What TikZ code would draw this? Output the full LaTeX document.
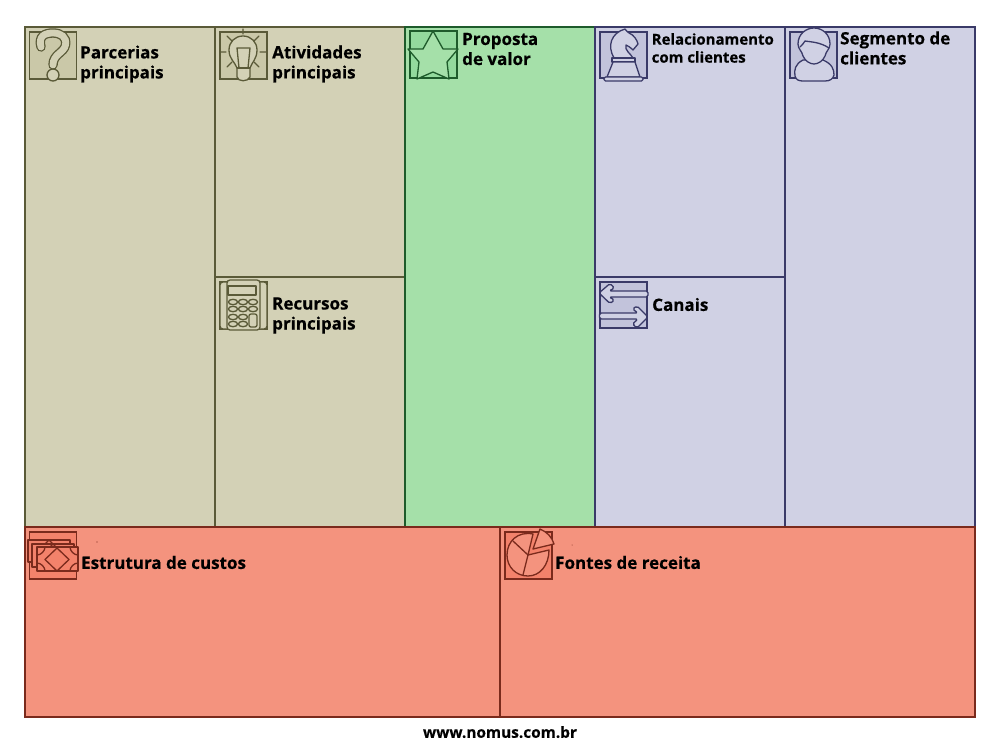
\documentclass[tikz,border=0pt]{standalone}
\usepackage{fontspec}
\setmainfont[BoldFeatures={FakeBold=0.4}]{Open Sans}
\definecolor{bfill}{HTML}{D3D1B6}\definecolor{bline}{HTML}{5A5A38}\definecolor{bbox}{HTML}{CAC8A8}
\definecolor{gfill}{HTML}{A5E0A9}\definecolor{gline}{HTML}{1E5B2B}\definecolor{gbox}{HTML}{93DA9D}
\definecolor{lfill}{HTML}{D0D1E4}\definecolor{lline}{HTML}{3A3A68}\definecolor{lbox}{HTML}{C2C3DB}
\definecolor{rfill}{HTML}{F4937E}\definecolor{rline}{HTML}{7A2A1C}\definecolor{rbox}{HTML}{F3826B}
\tikzset{
  x=1pt,y=-1pt,
  cell/.style={line width=1.2pt,line join=miter},
  ico/.style={line width=1.3pt,line join=round,line cap=round},
  lab/.style={font=\fontsize{17}{20}\selectfont\bfseries,align=left,anchor=west,inner sep=0pt,text=black},
  labs/.style={font=\fontsize{15}{18}\selectfont\bfseries,align=left,anchor=west,inner sep=0pt,text=black},
}
\begin{document}
\begin{tikzpicture}
\useasboundingbox (0,0) rectangle (1000,744);
\fill[white] (0,0) rectangle (1000,744);
% cells
\foreach \a/\b/\c/\d in {25/27/215/527,215/27/405/277,215/277/405/527}
  \filldraw[cell,fill=bfill,draw=bline] (\a,\b) rectangle (\c,\d);
\filldraw[cell,fill=gfill,draw=gline] (405,27) rectangle (595,527);
\foreach \a/\b/\c/\d in {595/27/785/277,595/277/785/527,785/27/975/527}
  \filldraw[cell,fill=lfill,draw=lline] (\a,\b) rectangle (\c,\d);
\foreach \a/\c in {25/500,500/975}
  \filldraw[cell,fill=rfill,draw=rline] (\a,527) rectangle (\c,717);
% icon squares
\foreach \a/\b in {29.5/32,220/32,220/282}
  \filldraw[cell,fill=bbox,draw=bline] (\a,\b) rectangle +(47,47);
\filldraw[cell,fill=gbox,draw=gline] (410,31) rectangle +(47,47);
\foreach \a/\b in {600/32,790/32,600/282}
  \filldraw[cell,fill=lbox,draw=lline] (\a,\b) rectangle +(47,46);
\foreach \a/\b in {29.5/532,505/532}
  \filldraw[cell,fill=rbox,draw=rline] (\a,\b) rectangle +(47,47);
% question mark
\def\qpath{(41,47) .. controls (38,36) and (45,33) .. (53,33) .. controls (61,33) and (67,37) .. (65.5,45) .. controls (64,53) and (53,54) .. (53,65)}
\draw[bline,line width=9.4pt,line cap=round] \qpath;
\draw[bfill,line width=6.8pt,line cap=round] \qpath;
\filldraw[ico,fill=bfill,draw=bline] (53,75) circle (6);
% bulb
\begin{scope}[ico,draw=bline]
\draw[fill=bfill] (237,77) .. controls (238,82) and (248,82) .. (250,77) -- (250,68) .. controls (252,62) and (257,59) .. (257,50) .. controls (257,42) and (251,36) .. (243,36) .. controls (235,36) and (229,42) .. (229,50) .. controls (229,59) and (235,62) .. (237,68) -- cycle;
\draw (237,48) -- (250,48) -- (248,68) -- (239,68) -- cycle;
\draw (237,68) -- (250,68);
\draw (243,29) -- (243,34) (220,52) -- (226,52) (260,52) -- (267,52)
  (227,36) -- (232,41) (259,36) -- (254,41) (227,67) -- (232,62) (259,67) -- (254,62);
\end{scope}
% star
\filldraw[ico,fill=gfill,draw=gline] (433,31) -- (443,49) -- (458,49) -- (447,62) -- (449,79) -- (433,72) -- (417,79) -- (419,62) -- (408,49) -- (423,49) -- cycle;
% calculator
\begin{scope}[ico,draw=bline]
\draw[fill=bfill,rounded corners=3pt] (220,282) rectangle (267,329);
\draw[fill=bfill,rounded corners=3pt] (227,280) rectangle (260,330);
\draw (228,286) rectangle (256,295);
\foreach \p in {233,243,253}\foreach \q in {302,309}
  \draw (\p,\q) ellipse (4.6 and 2.7);
\foreach \p in {233,243}\foreach \q in {317,324}
  \draw (\p,\q) ellipse (4.6 and 2.7);
\draw[rounded corners=2pt] (249,314) rectangle (257,327);
\end{scope}
% knight
\begin{scope}[ico,draw=lline]
\draw[fill=lfill] (614,58) .. controls (607,46) and (611,33) .. (625,29) .. controls (626,31) and (628,32) .. (629,33) .. controls (634,35) and (637,40) .. (638,44) -- (633,50) .. controls (630,47) and (628,46) .. (626,45) .. controls (624,50) and (631,54) .. (633,58) -- cycle;
\draw[fill=lfill] (612,58) rectangle (635,62);
\draw[fill=lfill] (613,62) -- (607,77) -- (640,77) -- (635,62) -- cycle;
\draw[fill=lfill,rounded corners=1.5pt] (604,77) rectangle (643,81);
\end{scope}
% person
\begin{scope}[ico,draw=lline]
\draw[fill=lfill] (803,60) .. controls (795,64) and (794,70) .. (795,76) .. controls (796,80) and (799,81) .. (803,81) -- (825,81) .. controls (830,81) and (833,79) .. (834,75) .. controls (834,69) and (832,64) .. (823,60) -- cycle;
\draw[fill=lfill] (814,28) .. controls (806,28) and (798,34) .. (798,44) .. controls (798,49) and (802,51) .. (803,56) .. controls (805,61) and (810,64) .. (814,64) .. controls (818,64) and (823,61) .. (825,56) .. controls (826,51) and (830,49) .. (830,44) .. controls (830,34) and (822,28) .. (814,28) -- cycle;
\draw (800,47) .. controls (802,45) and (804,43) .. (805,41) .. controls (811,42) and (820,42) .. (829,48);
\end{scope}
% channel arrows
\begin{scope}[ico,draw=lline,fill=lfill]
\filldraw[rounded corners=1.8pt] (599,293) -- (610,283.5) -- (614.5,288) -- (609,291) -- (648,291) -- (648,297) -- (609,297) -- (614.5,300) -- (610,303.5) -- cycle;
\filldraw[rounded corners=1.8pt] (648,317) -- (637,306) -- (632.5,309) -- (638,313) -- (599.5,313) -- (599.5,319) -- (638,319) -- (632.5,324) -- (637,328) -- cycle;
\end{scope}
% money
\begin{scope}[ico,draw=rline,fill=rbox]
\filldraw (28,540) rectangle (70,562);
\draw (49,540) -- (60,551) -- (49,562) -- (38,551) -- cycle;
\filldraw (32,544) rectangle (74,567);
\draw (53,544) -- (64,555) -- (53,566) -- (42,555) -- cycle;
\filldraw (37,547) rectangle (78,571);
\draw (57,548) -- (69,559.5) -- (57,571) -- (45,559.5) -- cycle;
\draw (37,555) .. controls (41,555) and (45,551) .. (45,547);
\draw (37,563) .. controls (41,563) and (45,567) .. (45,571);
\draw (78,555) .. controls (74,555) and (70,551) .. (70,547);
\draw (78,563) .. controls (74,563) and (70,567) .. (70,571);
\end{scope}
% pie
\begin{scope}[ico,draw=rline]
\draw[fill=rfill] (533,534) .. controls (518,531) and (507,541) .. (507,555) .. controls (507,567) and (516,576) .. (528,576) .. controls (540,576) and (549,565) .. (549,550) -- (528,555) -- cycle;
\draw (528,555) -- (513,541) (528,555) -- (523,575);
\draw[fill=rfill] (533,549) -- (540,529) .. controls (547,532) and (552,537) .. (554,544) -- cycle;
\end{scope}
\fill[rline] (97,542) circle (.6) (572,545) circle (.5);
% labels
\node[lab] (parcerias) at (80,64) {Parcerias\\principais};
\node[lab] (atividades) at (272,64) {Atividades\\principais};
\node[lab] (recursos) at (272,315.5) {Recursos\\principais};
\node[lab] (proposta) at (462,49) {Proposta\\de valor};
\node[labs] (relacion) at (651.5,48) {Relacionamento\\com clientes};
\node[lab] (canais) at (652,304.5) {Canais};
\node[lab] (segmento) at (840,48) {Segmento de\\clientes};
\node[lab] (custos) at (81,562.5) {Estrutura de custos};
\node[lab] (fontes) at (555,562.5) {Fontes de receita};
\node[font=\fontsize{15.4}{17}\selectfont\bfseries,inner sep=0pt] (site) at (500,732) {www.nomus.com.br};
\end{tikzpicture}
\end{document}
